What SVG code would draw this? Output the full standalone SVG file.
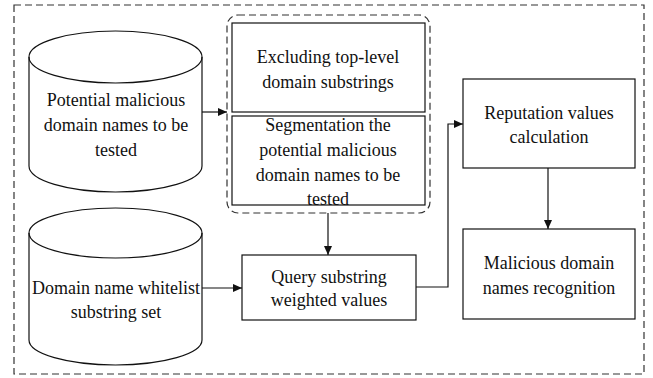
<svg xmlns="http://www.w3.org/2000/svg" width="653" height="378" viewBox="0 0 653 378">
<style>
.t{font-family:"Liberation Serif","Times New Roman",serif;font-size:18px;fill:#111;text-anchor:middle}
.s{fill:#fff;stroke:#111;stroke-width:1.2}
.c{fill:none;stroke:#111;stroke-width:1.2}
.d{fill:none;stroke:#333;stroke-width:1.2;stroke-dasharray:7,4}
</style>
<defs>
<marker id="ah" markerWidth="10" markerHeight="8" refX="9" refY="4" orient="auto" markerUnits="userSpaceOnUse">
<path d="M0,0 L9,4 L0,8 Z" fill="#111"/>
</marker>
</defs>
<rect width="653" height="378" fill="#fff"/>
<rect id="outer" class="d" x="14" y="5" width="630" height="369"/>
<g id="group-preprocess">
<rect class="d" x="227" y="15" width="203" height="198" rx="11"/>
</g>
<g id="cyl-potential">
<path class="s" d="M29,57 L29,166 A86.5,26 0 0 0 202,166 L202,57 A86.5,26 0 0 0 29,57 Z"/>
<path class="c" d="M29,57 A86.5,26 0 0 0 202,57"/>
<text class="t" x="116" y="106">Potential malicious</text>
<text class="t" x="116" y="131">domain names to be</text>
<text class="t" x="116" y="156">tested</text>
</g>
<g id="box-excluding">
<rect class="s" x="232" y="23" width="193" height="89"/>
<text class="t" x="328" y="63">Excluding top-level</text>
<text class="t" x="328" y="88">domain substrings</text>
</g>
<g id="box-segmentation">
<rect class="s" x="232" y="116" width="193" height="89"/>
<text class="t" x="328" y="131">Segmentation the</text>
<text class="t" x="328" y="156">potential malicious</text>
<text class="t" x="328" y="181">domain names to be</text>
<text class="t" x="328" y="205">tested</text>
</g>
<g id="cyl-whitelist">
<path class="s" d="M29,233 L29,340 A86.5,25 0 0 0 202,340 L202,233 A86.5,25 0 0 0 29,233 Z"/>
<path class="c" d="M29,233 A86.5,25 0 0 0 202,233"/>
<text class="t" x="116" y="294">Domain name whitelist</text>
<text class="t" x="116" y="318">substring set</text>
</g>
<g id="box-query">
<rect class="s" x="242" y="255" width="174" height="65"/>
<text class="t" x="329" y="283">Query substring</text>
<text class="t" x="329" y="306">weighted values</text>
</g>
<g id="box-reputation">
<rect class="s" x="463" y="79" width="172" height="89"/>
<text class="t" x="549" y="119">Reputation values</text>
<text class="t" x="549" y="143">calculation</text>
</g>
<g id="box-malicious">
<rect class="s" x="463" y="229" width="172" height="90"/>
<text class="t" x="549" y="269">Malicious domain</text>
<text class="t" x="549" y="294">names recognition</text>
</g>
<g id="connectors">
<path class="c" d="M202,112 L227,112" marker-end="url(#ah)"/>
<path class="c" d="M328,213 L328,255" marker-end="url(#ah)"/>
<path class="c" d="M202,288 L242,288" marker-end="url(#ah)"/>
<path class="c" d="M416,287 L448,287 L448,124 L463,124" marker-end="url(#ah)"/>
<path class="c" d="M548,168 L548,229" marker-end="url(#ah)"/>
</g>
</svg>
